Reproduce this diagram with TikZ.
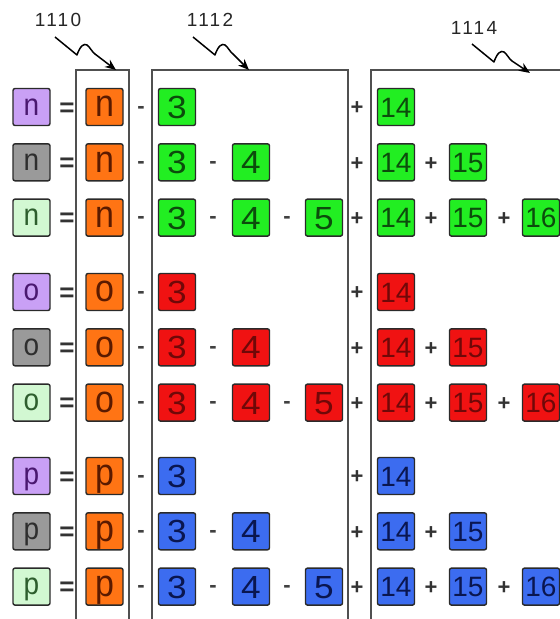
\documentclass[tikz,border=0pt]{standalone}
\usepackage{graphicx}
\usepackage{fontspec}
\setmainfont{Liberation Sans}
\usetikzlibrary{arrows.meta}
\definecolor{lpur}{HTML}{C9A0F5}
\definecolor{tpur}{HTML}{4A1870}
\definecolor{lgry}{HTML}{9A9A9A}
\definecolor{tgry}{HTML}{2E2E2E}
\definecolor{lgrn}{HTML}{D2F8D2}
\definecolor{tgrn}{HTML}{2E5E2E}
\definecolor{orng}{HTML}{FF7414}
\definecolor{torg}{HTML}{5A1A00}
\definecolor{fgA}{HTML}{22EE22}
\definecolor{tgA}{HTML}{0C4C0C}
\definecolor{fgB}{HTML}{F01212}
\definecolor{tgB}{HTML}{700808}
\definecolor{fgC}{HTML}{3C6CF0}
\definecolor{tgC}{HTML}{0A1650}
\definecolor{edge}{HTML}{2A2A2A}
\definecolor{colline}{HTML}{505050}
\newcommand\lsc[1]{\scalebox{1}[1.1]{#1}}
\newcommand\osc[1]{\scalebox{1}[1.12]{#1}}
\newcommand\dsc[1]{\scalebox{1.1}[1]{#1}}
\tikzset{
 sq/.style={draw=edge, line width=1.4pt, rounded corners=2pt, minimum width=37pt, minimum height=37pt, inner sep=0pt, text depth=0pt},
 lft/.style={sq, font=\fontsize{28}{28}\selectfont, text height=16pt},
 org/.style={sq, fill=orng, text=torg, font=\fontsize{34}{34}\selectfont, text height=19.8pt},
 one/.style={sq, font=\fontsize{32}{32}\selectfont, text height=22.9pt},
 two/.style={sq, font=\fontsize{28}{28}\selectfont, text height=20pt},
 eqs/.style={anchor=base, inner sep=0pt, font=\fontsize{26}{26}\selectfont\bfseries, text=black!80, yshift=-9pt},
 mns/.style={anchor=base, inner sep=0pt, font=\fontsize{22}{22}\selectfont\bfseries, text=black!75, yshift=-6pt},
 pls/.style={anchor=base, inner sep=0pt, font=\fontsize{22}{22}\selectfont\bfseries, text=black!80, yshift=-7.7pt},
 col/.style={draw=colline, line width=1.1pt},
 lbl/.style={font=\fontsize{19}{19}\selectfont\addfontfeature{LetterSpace=12}, text=black!85, inner sep=0pt},
 squig/.style={draw=black, line width=1.5pt, -{Stealth[length=11pt,width=9pt]}, line join=round},
}
\begin{document}
\begin{tikzpicture}[x=1pt,y=-1pt]
\useasboundingbox (0,0) rectangle (560,619);
% column boxes
\draw[col] (76,619) -- (76,70) -- (129,70) -- (129,619);
\draw[col] (152,619) -- (152,70) -- (348,70) -- (348,619);
\draw[col] (371,619) -- (371,70) -- (570,70);
% labels and squiggle arrows
\node[lbl] (n1110) at (58,20) {1110};
\node[lbl] (n1112) at (210,20) {1112};
\node[lbl] (n1114) at (474,28) {1114};
\coordinate (s1) at (55,37);
\coordinate (s2) at (193,37);
\coordinate (s3) at (472,44);
\coordinate (t1) at (116,70);
\coordinate (t2) at (249,70);
\coordinate (t3) at (530,73);
\foreach \s/\t in {s1/t1, s2/t2, s3/t3}{
 \draw[squig] (\s) -- ([shift={(22,18)}]\s)
   .. controls ([shift={(25,9)}]\s) and ([shift={(29,6)}]\s) .. ([shift={(32,8)}]\s)
   .. controls ([shift={(35,10)}]\s) and ([shift={(37,15)}]\s) .. ([shift={(40,17)}]\s)
   -- (\t);
}
% rows
\foreach \g/\ch/\fc/\tc/\yb in {1/n/fgA/tgA/107, 2/o/fgB/tgB/292, 3/p/fgC/tgC/476}{
 \foreach \k/\lf/\lt in {1/lpur/tpur, 2/lgry/tgry, 3/lgrn/tgrn}{
  \pgfmathsetmacro\y{\yb+(\k-1)*55.3}
  \node[lft, fill=\lf, text=\lt] (L\g\k) at (31.5,\y) {\lsc{\ch}};
  \node[eqs] (eq\g\k) at (67,\y) {=};
  \node[org] (O\g\k) at (104.5,\y) {\osc{\ch}};
  \node[mns] (ma\g\k) at (141,\y) {-};
  \node[one, fill=\fc, text=\tc] (Da\g\k) at (177,\y) {\dsc{3}};
  \node[pls] (pa\g\k) at (357,\y) {+};
  \node[two, fill=\fc, text=\tc] (Ea\g\k) at (396,\y) {14};
  \ifnum\k>1
   \node[mns] (mb\g\k) at (213,\y) {-};
   \node[one, fill=\fc, text=\tc] (Db\g\k) at (251,\y) {\dsc{4}};
   \node[pls] (pb\g\k) at (431,\y) {+};
   \node[two, fill=\fc, text=\tc] (Eb\g\k) at (468,\y) {15};
  \fi
  \ifnum\k>2
   \node[mns] (mc\g\k) at (287,\y) {-};
   \node[one, fill=\fc, text=\tc] (Dc\g\k) at (324,\y) {\dsc{5}};
   \node[pls] (pc\g\k) at (504,\y) {+};
   \node[two, fill=\fc, text=\tc] (Ec\g\k) at (541,\y) {16};
  \fi
 }
}
\end{tikzpicture}
\end{document}
